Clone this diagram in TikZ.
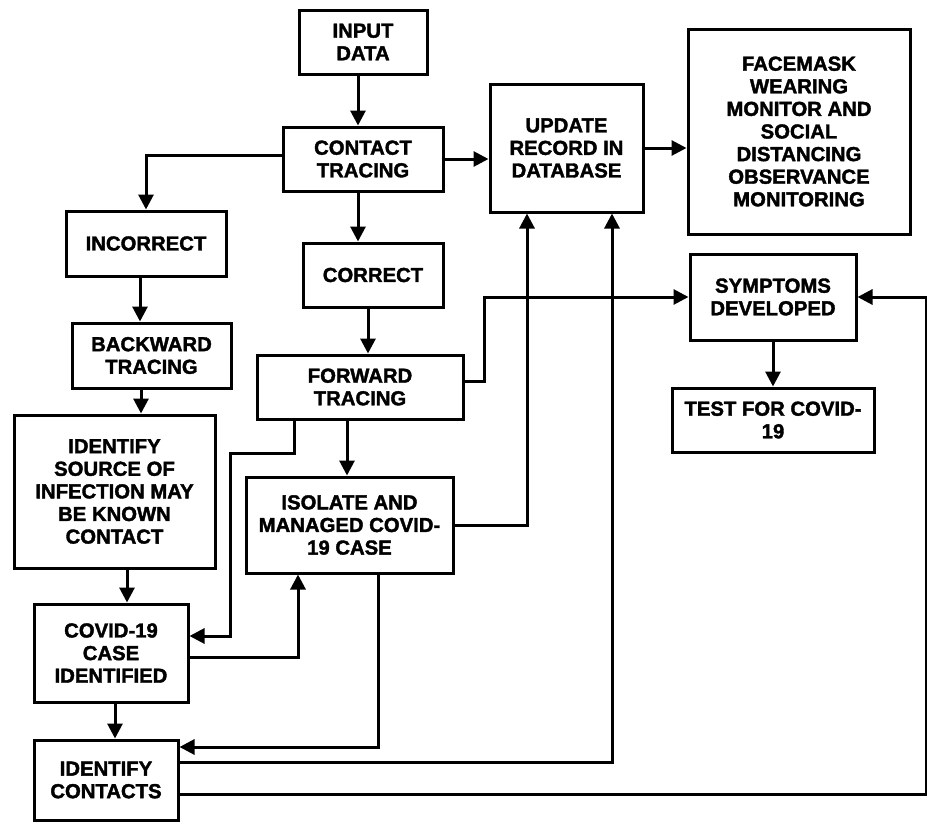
\documentclass[tikz,border=0pt]{standalone}
\usepackage{fontspec}
\setmainfont{Liberation Sans}[BoldFeatures={FakeBold=1.8}]
\usetikzlibrary{arrows.meta}
\begin{document}
\begin{tikzpicture}[x=1pt,y=-1pt,
  box/.style={draw=black,line width=3pt,fill=white,inner sep=0pt,align=center,
    font=\fontsize{20.3}{22.6}\selectfont\bfseries},
  arr/.style={draw=black,line width=3pt,-{Triangle[width=15pt,length=15pt]}}]
\useasboundingbox (0,0) rectangle (927,823);
\fill[white] (0,0) rectangle (927,823);
% boxes
\node[box,minimum width=128pt,minimum height=64pt] (input) at (363,42) {INPUT\\DATA};
\node[box,minimum width=160pt,minimum height=64pt] (contact) at (363,159) {CONTACT\\TRACING};
\node[box,minimum width=160pt,minimum height=65pt] (incorrect) at (146,243.5) {INCORRECT};
\node[box,minimum width=140pt,minimum height=64pt] (correct) at (373,275) {CORRECT};
\node[box,minimum width=159pt,minimum height=65pt] (backward) at (151.5,355.5) {BACKWARD\\TRACING};
\node[box,minimum width=206pt,minimum height=64pt] (forward) at (360,387) {FORWARD\\TRACING};
\node[box,minimum width=201pt,minimum height=153pt] (source) at (114.5,491.5) {IDENTIFY\\SOURCE OF\\INFECTION MAY\\BE KNOWN\\CONTACT};
\node[box,minimum width=207pt,minimum height=96pt] (isolate) at (349.5,525) {ISOLATE AND\\MANAGED COVID-\\19 CASE};
\node[box,minimum width=154pt,minimum height=98pt] (case) at (111,653) {COVID-19\\CASE\\IDENTIFIED};
\node[box,minimum width=144pt,minimum height=80pt] (contacts) at (106,780) {IDENTIFY\\CONTACTS};
\node[box,minimum width=153pt,minimum height=128pt] (update) at (566.5,148) {UPDATE\\RECORD IN\\DATABASE};
\node[box,minimum width=222pt,minimum height=205pt] (facemask) at (799,131.5) {FACEMASK\\WEARING\\MONITOR AND\\SOCIAL\\DISTANCING\\OBSERVANCE\\MONITORING};
\node[box,minimum width=166pt,minimum height=86pt] (symptoms) at (773,297) {SYMPTOMS\\DEVELOPED};
\node[box,minimum width=202pt,minimum height=64pt] (test) at (773,420) {TEST FOR COVID-\\19};
% connectors
\draw[arr] ([xshift=-5pt]input.south) -- ([xshift=-5pt]input.south |- contact.north);
\draw[arr] ([yshift=4pt]contact.west) -| (incorrect.north);
\draw[arr] ([xshift=-5pt]contact.south) -- ([xshift=-5pt]contact.south |- correct.north);
\draw[arr] (contact.east) -- (contact.east -| update.west);
\draw[arr] (update.east) -- (update.east -| facemask.west);
\draw[arr] ([xshift=-6pt]incorrect.south) -- ([xshift=-6pt]incorrect.south |- backward.north);
\draw[arr] ([xshift=-10.5pt]backward.south) -- ([xshift=-10.5pt]backward.south |- source.north);
\draw[arr] ([xshift=-5pt]correct.south) -- ([xshift=-5pt]correct.south |- forward.north);
\draw[arr] ([yshift=6pt]forward.east) -- ++(20,0) |- (symptoms.west);
\draw[arr] ([xshift=-13pt]forward.south) -- ([xshift=-13pt]forward.south |- isolate.north);
\draw[arr] ([xshift=-66pt]forward.south) -- ++(0,33) -- ++(-64,0) |- ([yshift=17pt]case.east);
\draw[arr] ([xshift=12.5pt]source.south) -- ([xshift=12.5pt]source.south |- case.north);
\draw[arr] ([yshift=-4pt]case.east) -| ([xshift=-51.5pt]isolate.south);
\draw[arr] (isolate.east) -| ([xshift=-39.5pt]update.south);
\draw[arr] ([xshift=4pt]case.south) -- ([xshift=4pt]case.south |- contacts.north);
\draw[arr] ([xshift=28.5pt]isolate.south) |- ([yshift=33pt]contacts.east);
\draw[arr] ([yshift=18pt]contacts.east) -| ([xshift=45.5pt]update.south);
\draw[arr] ([yshift=-14pt]contacts.east) -- ++(747,0) |- (symptoms.east);
\draw[arr] (symptoms.south) -- (symptoms.south |- test.north);
\end{tikzpicture}
\end{document}
